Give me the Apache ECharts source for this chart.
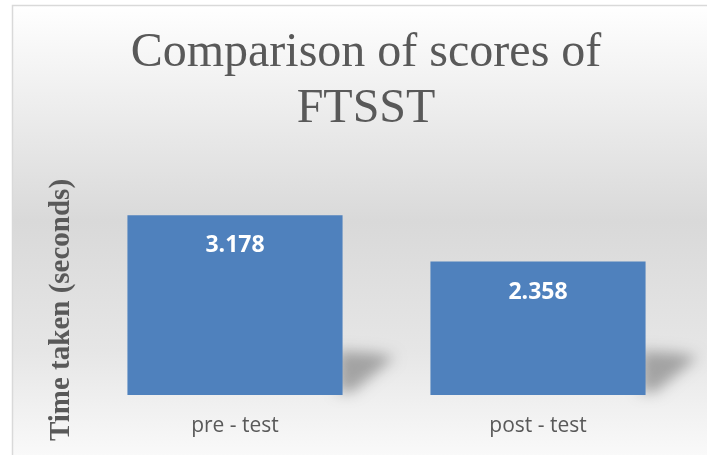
<!DOCTYPE html>
<html>
<head>
<meta charset="utf-8">
<script src="https://cdn.jsdelivr.net/npm/echarts@6/dist/echarts.min.js"></script>
<style>html,body{margin:0;padding:0;background:#fff;}#c{width:707px;height:455px;}</style>
</head>
<body>
<div id="c"></div>
<script>
const categories = ['pre - test', 'post - test'];
const values = [3.178, 2.358];
const titleText = 'Comparison of scores of\nFTSST';
const yAxisName = 'Time taken (seconds)';

const chart = echarts.init(document.getElementById('c'), null, {renderer: 'canvas'});
const shadowData = values.map((v, i) => [i, v]);

chart.setOption({
  animation: false,
  backgroundColor: '#ffffff',
  grid: {left: 83.5, right: 17.5, top: 197, bottom: 60, containLabel: false},
  xAxis: {
    type: 'category',
    data: categories,
    axisLine: {show: false},
    axisTick: {show: false},
    axisLabel: {color: '#595959', fontSize: 21, fontFamily: '"Open Sans", sans-serif', margin: 21}
  },
  yAxis: {
    type: 'value', min: 0, max: 3.5, show: false,
    splitLine: {show: false}
  },
  graphic: [
    {
      type: 'rect', z: -100, silent: true,
      shape: {x: 12.5, y: 5.5, width: 720, height: 480},
      style: {
        stroke: '#d9d9d9', lineWidth: 1.5,
        fill: new echarts.graphic.LinearGradient(0, 0, 0, 1, [
          {offset: 0, color: '#ffffff'},
          {offset: 0.45, color: '#d9d9d9'},
          {offset: 0.72, color: '#e6e6e6'},
          {offset: 1, color: '#ffffff'}
        ])
      }
    },
    {
      type: 'text', z: 10, silent: true,
      x: 366, y: 81,
      style: {
        text: titleText, fill: '#595959',
        font: '48px "Liberation Serif", "Times New Roman", serif',
        lineHeight: 56, textAlign: 'center', textVerticalAlign: 'middle'
      }
    },
    {
      type: 'text', z: 10, silent: true,
      x: 62, y: 310, rotation: Math.PI / 2,
      style: {
        text: yAxisName, fill: '#595959',
        font: 'bold 29px "Liberation Serif", "Times New Roman", serif',
        textAlign: 'center', textVerticalAlign: 'middle'
      }
    }
  ],
  series: [
    {
      type: 'custom',
      z: 1,
      silent: true,
      clip: false,
      data: shadowData,
      renderItem: function (params, api) {
        const base = api.coord([api.value(0), 0]);
        const bw = api.size([1, 0])[0] * 0.71;
        const xr = base[0] + bw / 2 - 2000;
        const yb = base[1];
        return {
          type: 'polygon',
          shape: {points: [[xr - 5, yb - 44], [xr + 30, yb - 42], [xr + 52, yb - 38], [xr + 10, yb - 3], [xr - 5, yb - 3]]},
          style: {
            fill: '#000',
            shadowBlur: 14, shadowColor: 'rgba(0,0,0,0.30)',
            shadowOffsetX: 2000, shadowOffsetY: 0
          }
        };
      }
    },
    {
      type: 'bar',
      z: 2,
      data: values,
      barWidth: '71%',
      itemStyle: {color: '#4F81BD'},
      label: {
        show: true, position: 'insideTop', distance: 19,
        color: '#ffffff', fontWeight: 'bold', fontSize: 23,
        fontFamily: '"Open Sans", sans-serif',
        formatter: p => p.value.toFixed(3)
      }
    }
  ]
});
</script>
</body>
</html>
